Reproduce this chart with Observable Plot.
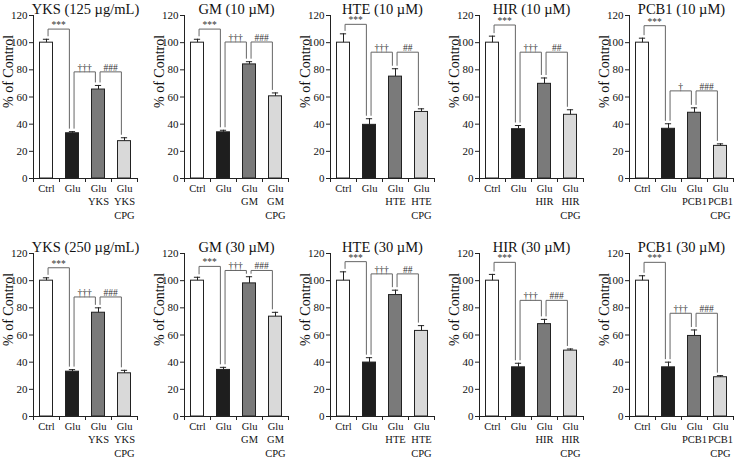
<!DOCTYPE html>
<html>
<head>
<meta charset="utf-8">
<script src="https://cdn.jsdelivr.net/npm/d3@7"></script>
<script src="https://cdn.jsdelivr.net/npm/@observablehq/plot@0.6"></script>
<style>
  body { margin: 0; background: #fff; }
  #chart { position: relative; width: 741px; height: 457px; overflow: hidden; background: #fff; font-family: "Liberation Serif", serif; }
  #chart > div { position: absolute; width: 150px; height: 228px; }
  #chart svg { max-width: none; }
</style>
</head>
<body>
<div id="chart"></div>
<script>
// ---------- data ----------
const drugs = ["YKS", "GM", "HTE", "HIR", "PCB1", "YKS", "GM", "HTE", "HIR", "PCB1"];
const doses = ["125 µg/mL", "10 µM", "10 µM", "10 µM", "10 µM", "250 µg/mL", "30 µM", "30 µM", "30 µM", "30 µM"];
const groupNames = ["Ctrl", "Glu", "Glu+drug", "Glu+drug+CPG"];
const yTicks = [0, 20, 40, 60, 80, 100, 120];

const meanCtrl = [100, 100, 100, 100, 100, 100, 100, 100, 100, 100];
const semCtrl  = [2.5, 2.5, 6.5, 4.8, 3.3, 2.1, 2.5, 6.5, 4.6, 3.6];
const meanGlu  = [33.3, 34, 39.5, 36.3, 36.6, 33, 34.3, 39.7, 36.2, 36.2];
const semGlu   = [1.2, 1.5, 4.5, 2.7, 3.7, 1.5, 1.9, 3.6, 3, 3.8];
const meanDrug = [65.5, 84, 75, 69.7, 48.4, 76.4, 98, 89.4, 68, 59.3];
const semDrug  = [3, 2, 5.8, 4.3, 3.6, 3.6, 4.9, 3.6, 3.5, 4.4];
const meanCPG  = [27.5, 60.5, 49, 46.9, 24, 31.8, 73.5, 63, 48.5, 28.9];
const semCPG   = [2.5, 2.5, 2.3, 3.7, 1.5, 2.2, 3.2, 3.9, 1.2, 1.2];

const sigGluVsCtrl  = ["***", "***", "***", "***", "***", "***", "***", "***", "***", "***"];
const sigDrugVsGlu  = ["†††", "†††", "†††", "†††", "†", "†††", "†††", "†††", "†††", "†††"];
const sigCpgVsDrug  = ["###", "###", "##", "##", "###", "###", "###", "##", "###", "###"];
const bracket1Level = [110, 110, 113.5, 113, 112.5, 109.5, 110.5, 114, 113.5, 113.5];
const bracket2Level = [78.5, 100.5, 93, 93, 64.5, 88, 107.5, 105, 85.5, 76];

// ---------- layout / style ----------
const axisLeft = [33, 184, 330, 479, 629];
const rowTop = [0, 238];
const fills = ["#ffffff", "#1e1e1e", "#7a7a7a", "#d9d9d9"];
const FONT = "Liberation Serif";

function panel(i) {
  const drug = drugs[i];
  const means = [meanCtrl[i], meanGlu[i], meanDrug[i], meanCPG[i]];
  const sems = [semCtrl[i], semGlu[i], semDrug[i], semCPG[i]];
  const labels = ["Ctrl", "Glu", `Glu\n${drug}`, `Glu\n${drug}\nCPG`];
  const groups = groupNames.map((g, k) => ({
    idx: k, name: g, label: labels[k], mean: means[k], sem: sems[k], fill: fills[k]
  }));
  const top = g => g.mean + g.sem;
  const gap = 2.5, offL = 0.06, offR = -0.12;
  const brackets = [
    {a: 0, b: 1, level: bracket1Level[i], label: sigGluVsCtrl[i]},
    {a: 1, b: 2, level: bracket2Level[i], label: sigDrugVsGlu[i]},
    {a: 2, b: 3, level: bracket2Level[i], label: sigCpgVsDrug[i]}
  ].map(br => ({...br, xa: br.a + 0.5 + offL, xb: br.b + 0.5 + offR}));
  const pts = brackets.flatMap((br, k) => [
    {k, x: br.xa, y: top(groups[br.a]) + gap},
    {k, x: br.xa, y: br.level},
    {k, x: br.xb, y: br.level},
    {k, x: br.xb, y: top(groups[br.b]) + gap}
  ]);
  return Plot.plot({
    width: 150, height: 228,
    marginLeft: 33, marginRight: 13, marginTop: 15, marginBottom: 50,
    x: {domain: [0, 4]},
    y: {domain: [0, 120]},
    color: {type: "identity"},
    style: {fontFamily: FONT, background: "transparent", overflow: "visible", color: "#111"},
    marks: [
      Plot.rectY(groups, {x1: d => d.idx + 0.25, x2: d => d.idx + 0.75, y: "mean", fill: d => d.fill, stroke: "#222", strokeWidth: 1}),
      Plot.ruleX(groups, {x: d => d.idx + 0.5, y1: "mean", y2: d => d.mean + d.sem, stroke: "#222"}),
      Plot.ruleY(groups, {y: d => d.mean + d.sem, x1: d => d.idx + 0.5 - 0.12, x2: d => d.idx + 0.5 + 0.12, stroke: "#222"}),
      Plot.line(pts, {x: "x", y: "y", z: "k", stroke: "#666", strokeWidth: 1}),
      Plot.text(brackets, {x: d => (d.xa + d.xb) / 2, y: "level", text: "label", lineAnchor: "bottom", dy: -1, fontSize: 9.5, fill: "#333"}),
      Plot.ruleX([0], {y1: 0, y2: 120, stroke: "#222"}),
      Plot.ruleY([0], {stroke: "#222"}),
      Plot.axisY({ticks: yTicks, tickSize: 4, tickPadding: 2, fontSize: 11, label: null, stroke: "#222"}),
      Plot.axisX({ticks: [0, 1, 2, 3, 4], tickSize: 4, tickFormat: () => "", label: null, stroke: "#222"}),
      Plot.text(groups, {x: d => d.idx + 0.5, y: 0, text: "label", lineAnchor: "top", dy: 4, fontSize: 10.5, lineHeight: 1.28, fill: "#111"}),
      Plot.text([`${drug} (${doses[i]})`], {frameAnchor: "top", lineAnchor: "bottom", dy: -1.5, fontSize: 14.5, fill: "#111"}),
      Plot.text(["% of Control"], {frameAnchor: "left", rotate: -90, dx: -25, dy: 11, fontSize: 14, fill: "#111"})
    ]
  });
}

const chart = document.getElementById("chart");
for (let i = 0; i < 10; i++) {
  const r = Math.floor(i / 5), c = i % 5;
  const wrap = document.createElement("div");
  wrap.style.left = (axisLeft[c] - 33) + "px";
  wrap.style.top = rowTop[r] + "px";
  wrap.appendChild(panel(i));
  chart.appendChild(wrap);
}
</script>
</body>
</html>
